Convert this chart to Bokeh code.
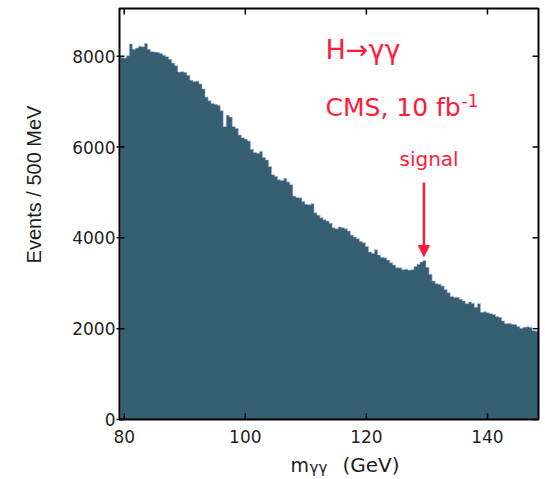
import math
from bokeh.plotting import figure
from bokeh.models import Range1d, Label, Arrow, NormalHead
from bokeh.core.properties import value
from bokeh.embed import file_html
from bokeh.resources import INLINE

# ---------------- data ----------------
bin_start = 79.35      # GeV, lower edge of first bin
bin_width = 0.5        # GeV (500 MeV)
events = [
    7970, 7960, 8010, 8270, 8150, 8180, 8220, 8210, 8280, 8150,
    8100, 8090, 8085, 8060, 8020, 7990, 7930, 7850, 7790, 7650,
    7660, 7640, 7580, 7470, 7440, 7450, 7390, 7280, 7100, 7020,
    6960, 6940, 6920, 6800, 6450, 6700, 6660, 6450, 6410, 6265,
    6205, 6175, 6130, 5950, 5880, 5860, 5900, 5770, 5715, 5570,
    5390, 5350, 5280, 5260, 5310, 5230, 5170, 4920, 4890, 4880,
    4800, 4740, 4730, 4750, 4550, 4500, 4440, 4400, 4370, 4320,
    4220, 4200, 4240, 4220, 4200, 4150, 4060, 4020, 3980, 3920,
    3890, 3810, 3690, 3660, 3740, 3620, 3570, 3560, 3510, 3450,
    3400, 3340, 3340, 3300, 3310, 3290, 3300, 3370, 3420, 3470,
    3500, 3350, 3200, 3050, 2990, 2980, 2940, 2865, 2790, 2710,
    2690, 2690, 2650, 2610, 2550, 2590, 2560, 2470, 2550, 2360,
    2370, 2350, 2330, 2310, 2270, 2250, 2170, 2110, 2120, 2100,
    2090, 2050, 2010, 2030, 2040, 2030, 1960, 1950, 1950,
]
x_ticks = [80, 100, 120, 140]
y_ticks = [0, 2000, 4000, 6000, 8000]
x_title = ["m", "\u03b3\u03b3", "(GeV)"]
y_title = "Events / 500 MeV"
process_text = "H\u2192\u03b3\u03b3"
lumi_text = "CMS, 10 fb"
lumi_exp = "-1"
signal_text = "signal"
signal_mass = 129.5

# ---------------- style / layout ----------------
FONT = "DejaVu Sans"
RED = "#ff1a3a"
FILL = "#375f72"
TXT = "#1e1e1e"
W, H = 545, 479
L, R, T, B = 119, 7, 8, 60          # frame box inside the canvas (px)
X0, X1 = 79.22, 148.43              # axis limits
Y0, Y1 = 0, 9050
FW, FH = W - L - R, H - T - B
PPX = FW / (X1 - X0)                # px per GeV
PPY = FH / (Y1 - Y0)                # px per event

def px_x(px):
    return X0 + (px - L) / PPX

def px_y(py):
    return Y0 + (T + FH - py) / PPY

p = figure(width=W, height=H, output_backend="svg", toolbar_location=None,
           x_range=Range1d(px_x(0), px_x(W)), y_range=Range1d(px_y(H), px_y(0)),
           min_border=0, x_axis_location=None, y_axis_location=None)
p.grid.visible = False
p.outline_line_color = None
p.background_fill_color = "white"
p.border_fill_color = "white"

# histogram (clipped to the axis limits)
edges = [min(max(bin_start + bin_width * i, X0), X1) for i in range(len(events) + 1)]
ys = list(events) + [events[-1]]
p.varea_step(x=edges, y1=0, y2=ys, step_mode="after", fill_color=FILL)
p.step(x=edges, y=ys, mode="after", line_color="#a7b0da", line_width=1, line_alpha=0.6)

# frame
p.quad(left=[X0], right=[X1], bottom=[Y0], top=[Y1], fill_color=None,
       line_color="black", line_width=2)

# ticks
tin = 6
nx, ny = len(x_ticks), len(y_ticks)
p.segment(x0=x_ticks, y0=[Y0] * nx, x1=x_ticks, y1=[Y0 + tin / PPY] * nx,
          line_color="black", line_width=1.5)
p.segment(x0=x_ticks, y0=[Y1] * nx, x1=x_ticks, y1=[Y1 - tin / PPY] * nx,
          line_color="black", line_width=1.5)
p.segment(x0=[X0 - 3 / PPX] * ny, y0=y_ticks, x1=[X0 + 5 / PPX] * ny, y1=y_ticks,
          line_color="black", line_width=1.5)
p.segment(x0=[X1] * ny, y0=y_ticks, x1=[X1 - tin / PPX] * ny, y1=y_ticks,
          line_color="black", line_width=1.5)

# tick labels
p.text(x=x_ticks, y=[px_y(436)] * nx, text=[str(t) for t in x_ticks],
       text_align="center", text_baseline="middle", text_font=value(FONT),
       text_font_size="17px", text_color=TXT)
p.text(x=[px_x(115)] * ny, y=y_ticks, text=[str(t) for t in y_ticks],
       text_align="right", text_baseline="middle", text_font=value(FONT),
       text_font_size="17px", text_color=TXT)

# axis titles
p.text(x=[px_x(33)], y=[px_y(184)], text=[y_title], angle=math.pi / 2,
       text_align="center", text_baseline="middle", text_font=value("Liberation Sans"),
       text_font_size="20px", text_color=TXT)
p.text(x=[px_x(290)], y=[px_y(464)], text=[x_title[0]], text_baseline="middle",
       text_font=value(FONT), text_font_size="19px", text_color=TXT)
p.text(x=[px_x(309)], y=[px_y(467)], text=[x_title[1]], text_baseline="middle",
       text_font=value(FONT), text_font_size="15px", text_color=TXT)
p.text(x=[px_x(342)], y=[px_y(464)], text=[x_title[2]], text_baseline="middle",
       text_font=value(FONT), text_font_size="20px", text_color=TXT)

# annotations
p.add_layout(Label(x=px_x(325), y=px_y(49), text=process_text, text_font=FONT,
                   text_font_size="27px", text_color=RED, text_baseline="middle"))
p.add_layout(Label(x=px_x(325), y=px_y(106.5), text=lumi_text, text_font=FONT,
                   text_font_size="25px", text_color=RED, text_baseline="middle"))
p.add_layout(Label(x=px_x(461), y=px_y(100), text=lumi_exp, text_font=FONT,
                   text_font_size="17px", text_color=RED, text_baseline="middle"))
p.add_layout(Label(x=px_x(399), y=px_y(158), text=signal_text, text_font=FONT,
                   text_font_size="20px", text_color=RED, text_baseline="middle"))
p.add_layout(Arrow(x_start=signal_mass, y_start=px_y(182), x_end=signal_mass, y_end=px_y(256),
                   line_color=RED, line_width=2.5,
                   end=NormalHead(size=11, fill_color=RED, line_color=RED)))

open("out.html", "w").write(file_html(p, INLINE))
